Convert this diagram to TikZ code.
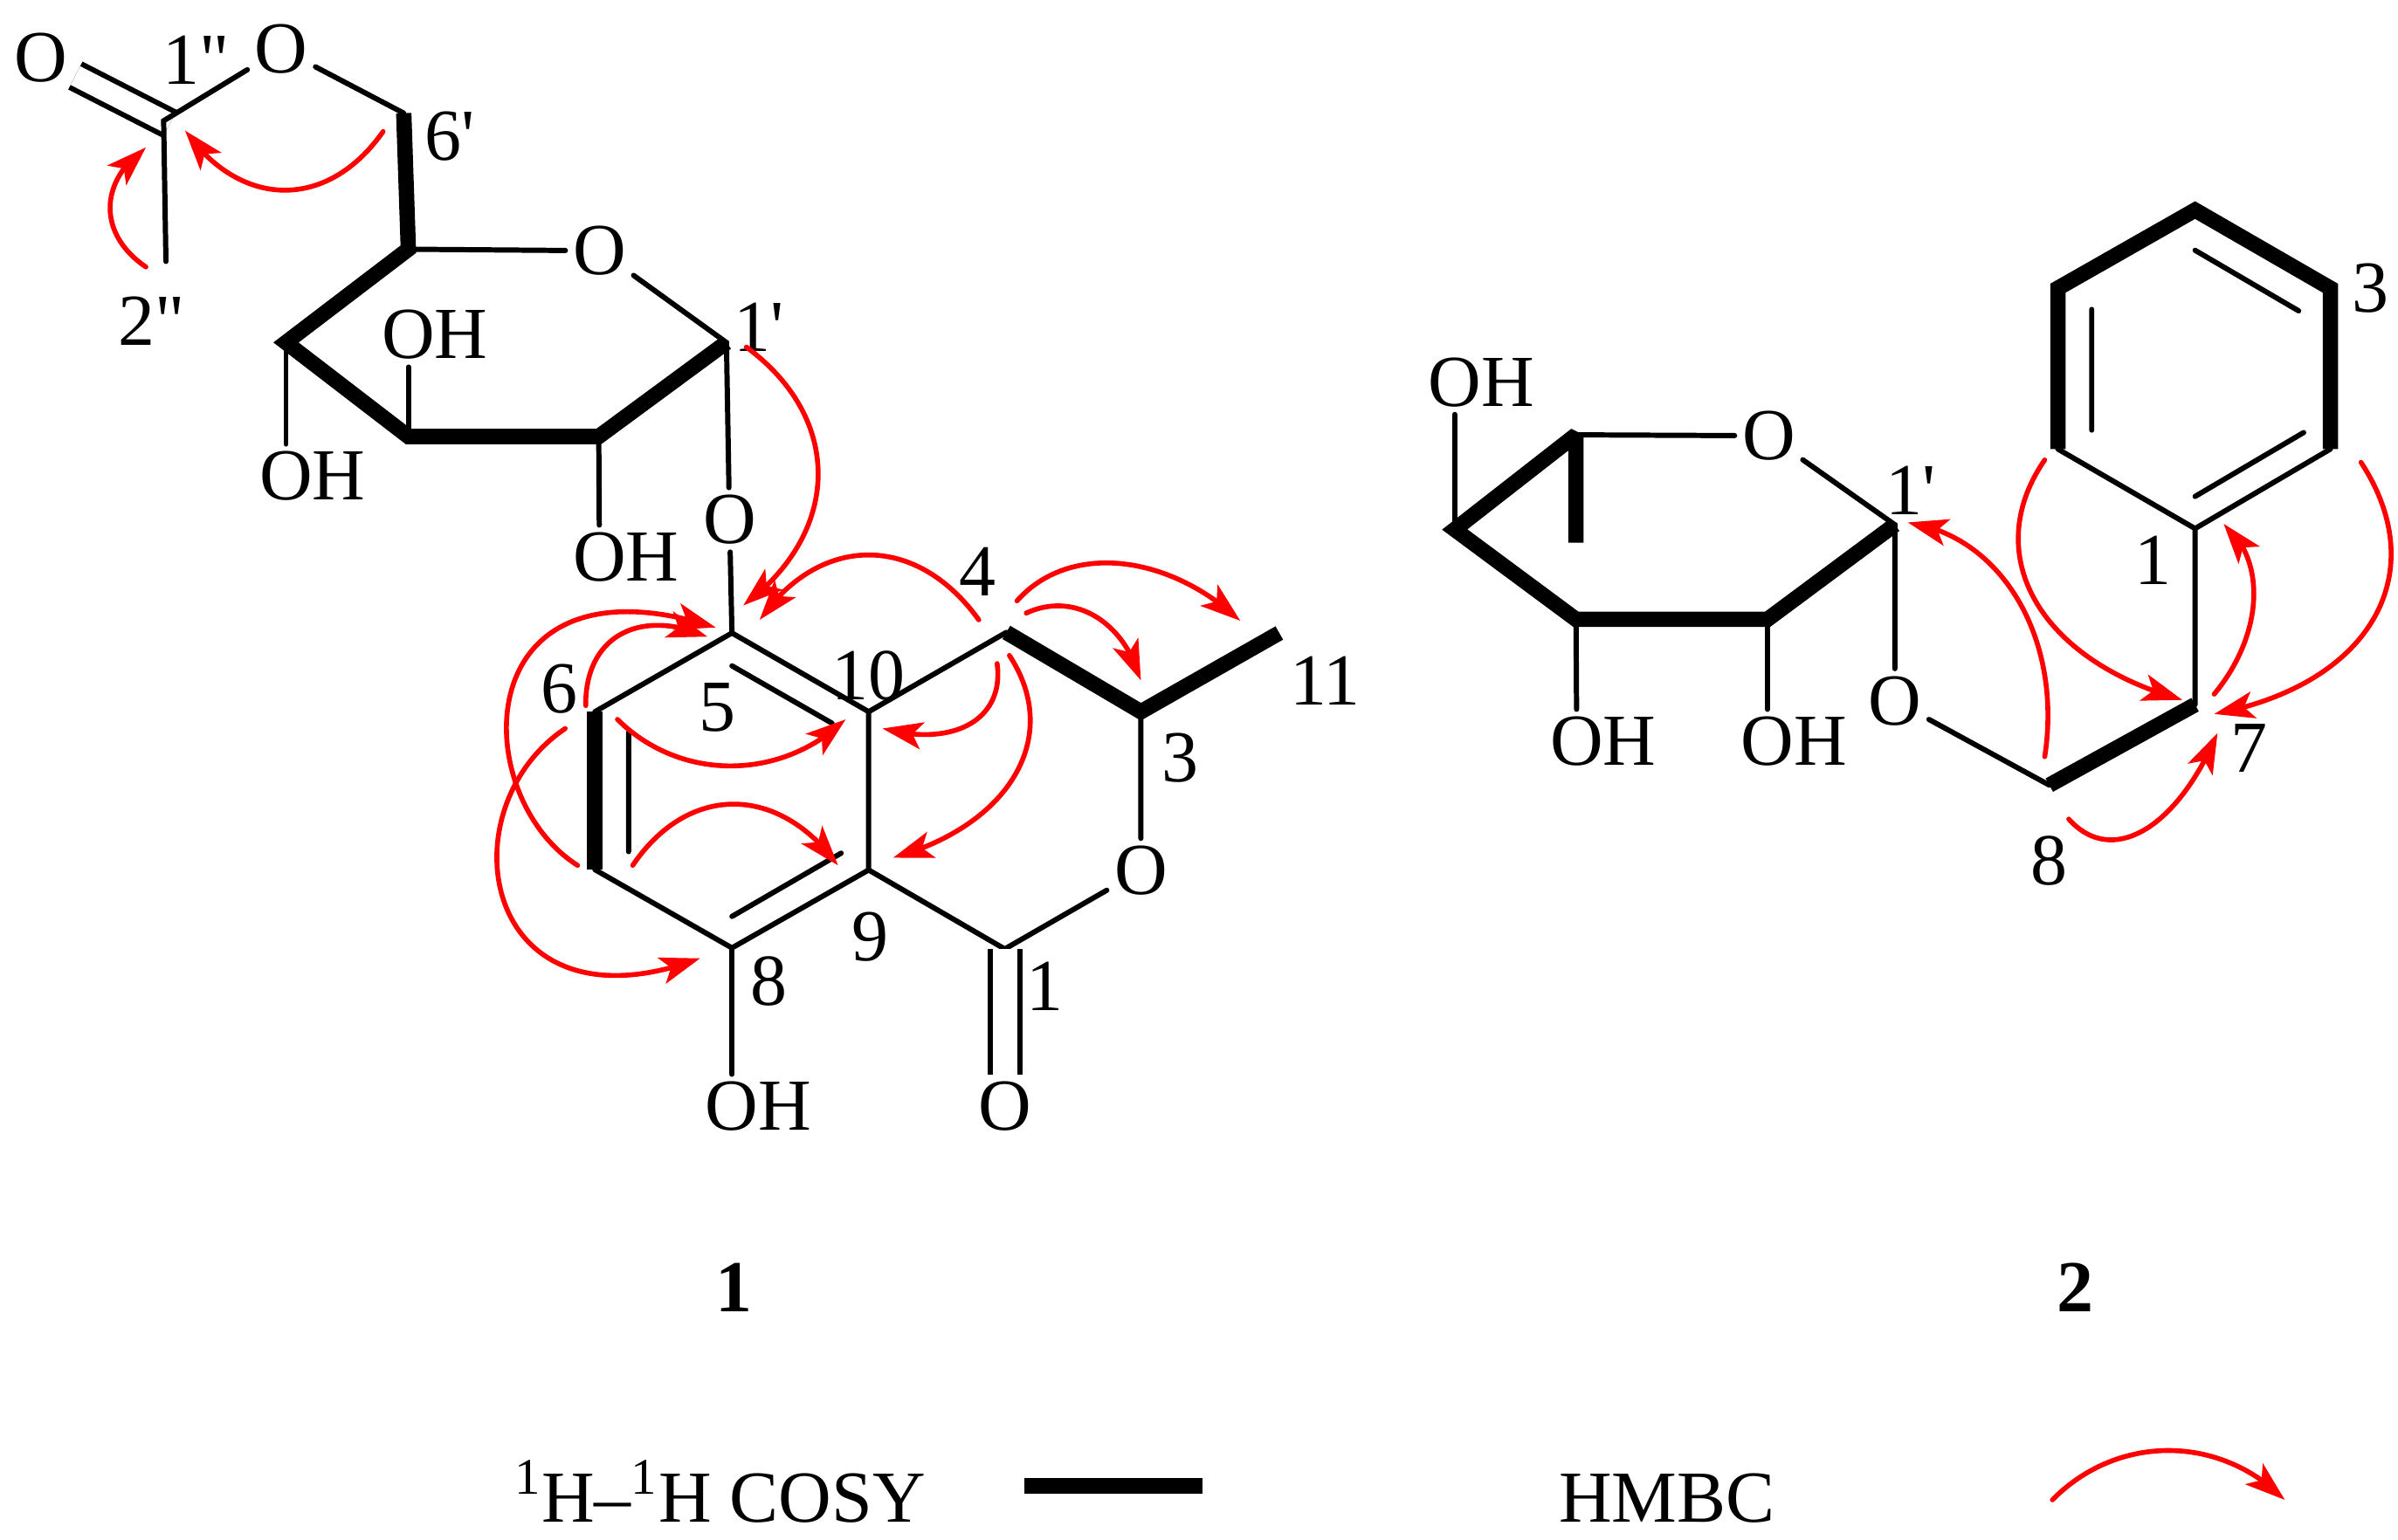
\documentclass[tikz,border=0pt]{standalone}
\usepackage{fontspec}
\setmainfont{Liberation Serif}
\usetikzlibrary{
    arrows.meta,
    bending,
    calc
}
\tikzset{
    % Arrows
    hmbc tip/.tip={Stealth[length=4.6mm,width=3.1mm,inset=1.1mm]},
    hmbc arrow/.style={-{hmbc tip},red,line width=1.6pt,line cap=round},
    %
    % Bonds
    bond/.style={line width=1.7pt,line cap=round},
    cosy bond/.style={line width=5pt,miter limit=2},
    double bond/.style={line width=1.7pt,double,double distance=#1},
    %
    % Nodes and points
    atom/.style={font=\fontsize{23.9}{26}\selectfont,inner sep=.08cm},
    locant/.style={atom,inner sep=0pt},
    compound/.style={locant,font=\fontsize{23.9}{26}\selectfont\bfseries},
    legend/.style={locant,anchor=base west}
}
% name, start, point half way, tip
\newcommand{\hmbc}[4]{
    \coordinate (#1s) at (#2);
    \coordinate (#1m) at (#3);
    \coordinate (#1t) at (#4);
    \draw[hmbc arrow] (#1s) .. controls ($.0533*(#1s)+1.3333*(#1m)-.3867*(#1t)$) and ($.0533*(#1t)+1.3333*(#1m)-.3867*(#1s)$) .. (#1t);
}
\newcommand{\pr}{\textquotesingle}
\newcommand{\dpr}{\textquotedbl}

\begin{document}
\begin{tikzpicture}[x=.017513cm,y=-.017513cm]
    \useasboundingbox (0,0) rectangle (1568,1007.25);
    % compound 1, acetyl
    \coordinate (ac) at (107,79);
    \coordinate (acd) at (111,81);
    \coordinate (ame) at (108.5,171);
    \coordinate (s6) at (264,74);
    \node[atom] (aco) at (27,38) {O};
    \node[atom] (aoe) at (184,32) {O};
    \draw[double bond=.24cm] (acd) -- (aco);
    \draw[bond] (ame) -- (ac) -- (aoe) -- (s6);
    % sugar of 1
    \coordinate (s5) at (267,163);
    \coordinate (s4) at (187,224);
    \coordinate (s3) at (267,285.5);
    \coordinate (s2) at (391.5,285.5);
    \coordinate (s1) at (475,224);
    \node[atom] (so) at (392,164) {O};
    \node[atom] (sog) at (477,340) {O};
    \node[atom] (soh4) at (187,311.5) {O\rlap{H}};
    \node[atom] (soh3) at (267,219) {O\rlap{H}};
    \node[atom] (soh2) at (392,364.5) {O\rlap{H}};
    \draw[cosy bond] (s6) -- (s5) -- (s4) -- (s3) -- (s2) -- (s1);
    \draw[bond] (s5) -- (so) -- (s1) -- (sog);
    \draw[bond] (s4) -- (soh4);
    \draw[bond] (s3) -- (soh3);
    \draw[bond] (s2) -- (soh2);
    % aglycone of 1
    \coordinate (a5) at (478.6,414);
    \coordinate (a6) at (389,465.5);
    \coordinate (a7) at (389,568.8);
    \coordinate (a8) at (478.6,620);
    \coordinate (a9) at (568,569);
    \coordinate (a10) at (568,465.5);
    \coordinate (a4) at (658,413.6);
    \coordinate (a3) at (746,465.5);
    \coordinate (a11) at (836.5,414);
    \coordinate (a1) at (657,620.7);
    \coordinate (a5i) at (478.6,435.5);
    \coordinate (a10i) at (544,473);
    \coordinate (a6i) at (411,479);
    \coordinate (a7i) at (411,557);
    \coordinate (a8i) at (478.6,599.4);
    \coordinate (a9i) at (550,558);
    \node[atom] (ao) at (746,569.4) {O};
    \node[atom] (aok) at (657,723.7) {O};
    \node[atom] (aoh) at (478.6,723.7) {O\rlap{H}};
    \draw[bond] (sog) -- (a5) -- (a6);
    \draw[cosy bond] (a6) -- (a7);
    \draw[bond] (a7) -- (a8) -- (a9) -- (a10) -- (a5);
    \draw[bond] (a10) -- (a4);
    \draw[cosy bond] (a4) -- (a3) -- (a11);
    \draw[bond] (a3) -- (ao) -- (a1) -- (a9);
    \draw[double bond=.28cm] (a1) -- (aok);
    \draw[bond] (a8) -- (aoh);
    \draw[bond] (a5i) -- (a10i) (a6i) -- (a7i) (a8i) -- (a9i);
    % compound 2, benzene
    \coordinate (p1) at (1435.3,345.7);
    \coordinate (p2) at (1345.6,293.7);
    \coordinate (p3) at (1345.6,188.5);
    \coordinate (p4) at (1435.3,137.4);
    \coordinate (p5) at (1523.8,188.5);
    \coordinate (p6) at (1523.8,293.7);
    \coordinate (p7) at (1435.3,460.9);
    \coordinate (p8) at (1340,513.5);
    \coordinate (p2i) at (1367.7,281.3);
    \coordinate (p3i) at (1367.7,202.4);
    \coordinate (p4i) at (1435.3,163.7);
    \coordinate (p5i) at (1503,203.3);
    \coordinate (p1i) at (1435.3,324.7);
    \coordinate (p6i) at (1506.3,282.9);
    \node[atom] (poe) at (1239,458.4) {O};
    \draw[cosy bond] (p2) -- (p3) -- (p4) -- (p5) -- (p6);
    \draw[bond] (p6) -- (p1) -- (p2) (p1) -- (p7);
    \draw[bond] (p2i) -- (p3i) (p4i) -- (p5i) (p1i) -- (p6i);
    \draw[cosy bond] (p7) -- (p8);
    \draw[bond] (p8) -- (poe);
    % sugar of 2
    \coordinate (r1) at (1239,343.2);
    \coordinate (r2) at (1155.7,405.1);
    \coordinate (r3) at (1030.5,405.1);
    \coordinate (r4) at (951.2,346.3);
    \coordinate (r5) at (1030.5,284.4);
    \coordinate (r6) at (1030.5,355);
    \node[atom] (ro) at (1156.5,285) {O};
    \node[atom] (roh4) at (951.2,250) {O\rlap{H}};
    \node[atom] (roh3) at (1031,485) {O\rlap{H}};
    \node[atom] (roh2) at (1155.7,485) {O\rlap{H}};
    \draw[cosy bond] (r1) -- (r2) -- (r3) -- (r4) -- (r5) -- (r6);
    \draw[bond] (r5) -- (ro) -- (r1) -- (poe);
    \draw[bond] (r4) -- (roh4);
    \draw[bond] (r3) -- (roh3);
    \draw[bond] (r2) -- (roh2);
    % locants
    \node[locant] (lac1) at (128,39) {1\dpr};
    \node[locant] (lac2) at (99,210) {2\dpr};
    \node[locant] (ls6) at (294,89) {6\pr};
    \node[locant] (ls1) at (496,214) {1\pr};
    \node[locant] (la4) at (639,374) {4};
    \node[locant] (la10) at (568,442) {10};
    \node[locant] (la5) at (469,463) {5};
    \node[locant] (la6) at (365.6,450.5) {6};
    \node[locant] (la3) at (771.5,495.6) {3};
    \node[locant] (la11) at (866.5,445) {11};
    \node[locant] (la9) at (569,613) {9};
    \node[locant] (la8) at (503,642) {8};
    \node[locant] (la1) at (683,645) {1};
    \node[locant] (lr1) at (1249.6,321) {1\pr};
    \node[locant] (lp1) at (1408,366.4) {1};
    \node[locant] (lp3) at (1550,188.5) {3};
    \node[locant] (lp7) at (1470.8,489.3) {7};
    \node[locant] (lp8) at (1340,563) {8};
    \node[compound] (cpd1) at (480,842) {1};
    \node[compound] (cpd2) at (1357,842) {2};
    % legend
    \node[legend] (lcosy) at (336,995.4) {\textsuperscript{1}H--\textsuperscript{1}H COSY};
    \coordinate (lbars) at (670,972);
    \coordinate (lbart) at (786,972);
    \draw[cosy bond] (lbars) -- (lbart);
    \node[legend] (lhmbc) at (1019,995.4) {HMBC};
    \hmbc{lh}{1342,981}{1418,948.8}{1494,981}
    % HMBC arrows of 1
    \hmbc{ha}{95.4,174.6}{72,136}{95.4,96.4}
    \hmbc{hb}{250.5,86}{186,124.4}{121,85.4}
    \hmbc{hc}{488,227}{535,311}{486,396}
    \hmbc{he}{640,405.4}{568,363}{496.7,405.4}
    \hmbc{hf}{665,393}{732.3,368.6}{811,406}
    \hmbc{hg}{671,401}{716,403}{746,445}
    \hmbc{hh}{652,434}{634,473.7}{577,476.5}
    \hmbc{hi}{660,428.7}{664,506.5}{584,561}
    \hmbc{hj}{383,461.5}{405.7,415}{462.6,416.4}
    \coordinate (hks) at (377.7,566);
    \coordinate (hkt) at (468,410.4);
    \draw[hmbc arrow] (hks) .. controls (305,520) and (305,358) .. (hkt);
    \coordinate (hls) at (369.6,476.5);
    \coordinate (hlt) at (457.8,626.8);
    \draw[hmbc arrow] (hls) .. controls (290,530) and (315,680) .. (hlt);
    \hmbc{hm}{403.7,470.5}{477.8,501}{553,470.5}
    \hmbc{hn}{413.7,566}{479.8,526}{548,566}
    % HMBC arrows of 2
    \hmbc{hp}{1337,300.8}{1331,393}{1427,457.8}
    \hmbc{hq}{1543.8,302.4}{1552,405}{1447.8,467}
    \hmbc{hr}{1447.8,454}{1473.7,392.8}{1454,342.6}
    \hmbc{hs}{1337,494.9}{1320,393}{1247.5,341.7}
    \hmbc{ht}{1352.7,535.7}{1402,543}{1450,479.4}
\end{tikzpicture}
\end{document}
